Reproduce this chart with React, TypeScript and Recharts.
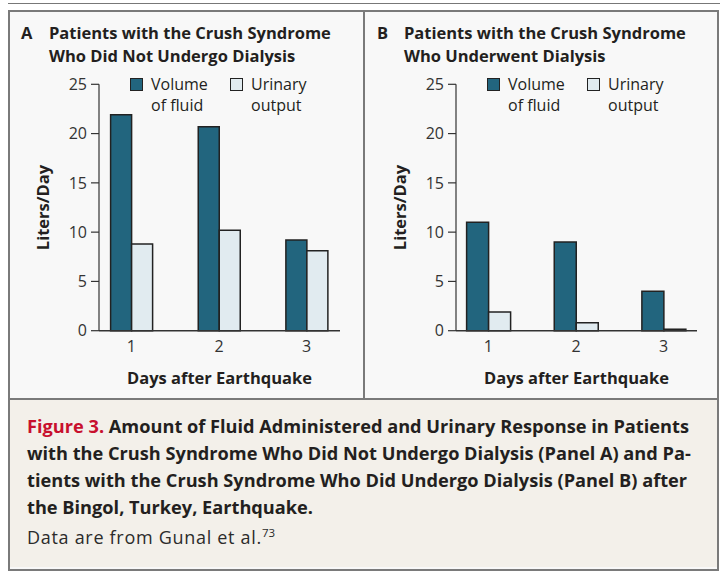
import React from 'react';
import { BarChart, Bar, XAxis, YAxis, Legend, Label } from 'recharts';

const days = [1, 2, 3];
const fluidNoDialysis = [21.9, 20.7, 9.2];
const urineNoDialysis = [8.8, 10.2, 8.1];
const fluidDialysis = [11.0, 9.0, 4.0];
const urineDialysis = [1.9, 0.8, 0.15];
const yTicks = [0, 5, 10, 15, 20, 25];
const seriesNames = ['Volume of fluid', 'Urinary output'];
const seriesColors = ['#22657e', '#e1ebf0'];
const xAxisTitle = 'Days after Earthquake';
const yAxisTitle = 'Liters/Day';

const FONT = '"Open Sans", sans-serif';
const TEXT = '#231f20';
const AXIS = '#333333';

const makeRows = (fluid: number[], urine: number[]) =>
  days.map((d, i) => ({ day: d, fluid: fluid[i], urine: urine[i] }));

const rowsA = makeRows(fluidNoDialysis, urineNoDialysis);
const rowsB = makeRows(fluidDialysis, urineDialysis);

const LegendContent = (props: any) => {
  const payload = [...(props.payload || [])].sort(
    (a: any, b: any) => seriesNames.indexOf(a.value) - seriesNames.indexOf(b.value)
  );
  return (
    <div style={{ display: 'flex', fontFamily: FONT, fontSize: 16, lineHeight: '21px', color: TEXT }}>
      {payload.map((entry: any, i: number) => {
        const name: string = entry.value;
        const sp = name.indexOf(' ');
        return (
          <div key={name} style={{ display: 'flex', width: i === 0 ? 100 : 'auto' }}>
            <div
              style={{
                width: 11,
                height: 11,
                border: '1.5px solid #222',
                background: entry.color,
                marginTop: 4,
                marginRight: 8,
                flex: 'none',
              }}
            />
            <div>
              <div>{name.slice(0, sp)}</div>
              <div>{name.slice(sp + 1)}</div>
            </div>
          </div>
        );
      })}
    </div>
  );
};

const YLabel = (props: any) => {
  const vb = props.viewBox || { x: 0, y: 0, width: 0, height: 0 };
  const x = vb.x + vb.width - 57;
  const y = vb.y + vb.height / 2;
  return (
    <text
      x={x}
      y={y}
      transform={`rotate(-90, ${x}, ${y})`}
      textAnchor="middle"
      dominantBaseline="central"
      fontFamily={FONT}
      fontWeight={700}
      fontSize={16.5}
      fill={TEXT}
    >
      {yAxisTitle}
    </text>
  );
};

const XLabel = (props: any) => {
  const vb = props.viewBox || { x: 0, y: 0, width: 0, height: 0 };
  return (
    <text
      x={vb.x + vb.width / 2}
      y={vb.y + 47}
      textAnchor="middle"
      dominantBaseline="central"
      fontFamily={FONT}
      fontWeight={700}
      fontSize={16.5}
      fill={TEXT}
    >
      {xAxisTitle}
    </text>
  );
};

function Panel({ rows, left, barSize }: { rows: any[]; left: number; barSize: number }) {
  return (
    <div style={{ position: 'absolute', left, top: 0 }}>
      <BarChart
        width={364}
        height={400}
        data={rows}
        margin={{ top: 84.3, right: 24, bottom: 39.3, left: 39 }}
        barGap={0}
      >
        <XAxis
          type="number"
          dataKey="day"
          domain={[0.63, 3.38]}
          allowDataOverflow
          ticks={days}
          interval={0}
          tickLine={false}
          height={30}
          tickMargin={4}
          axisLine={{ stroke: AXIS, strokeWidth: 1.5 }}
          tick={{ fill: AXIS, fontSize: 16, fontFamily: FONT }}
        >
          <Label content={XLabel} />
        </XAxis>
        <YAxis
          type="number"
          domain={[0, 25]}
          ticks={yTicks}
          interval={0}
          width={60}
          tickSize={8}
          tickMargin={4}
          axisLine={{ stroke: AXIS, strokeWidth: 1.2 }}
          tickLine={{ stroke: AXIS, strokeWidth: 1.2 }}
          tick={{ fill: AXIS, fontSize: 16, fontFamily: FONT }}
        >
          <Label content={YLabel} />
        </YAxis>
        <Legend
          layout="horizontal"
          verticalAlign="middle"
          align="center"
          wrapperStyle={{ top: 73.5, left: 130, width: 'auto', height: 'auto' }}
          content={LegendContent}
        />
        <Bar
          dataKey="fluid"
          name={seriesNames[0]}
          fill={seriesColors[0]}
          stroke="#222"
          strokeWidth={1.5}
          barSize={barSize}
          isAnimationActive={false}
        />
        <Bar
          dataKey="urine"
          name={seriesNames[1]}
          fill={seriesColors[1]}
          stroke="#222"
          strokeWidth={1.5}
          barSize={barSize}
          isAnimationActive={false}
        />
      </BarChart>
    </div>
  );
}

const titleStyle: React.CSSProperties = {
  position: 'absolute',
  fontFamily: FONT,
  fontWeight: 700,
  fontSize: 16.5,
  lineHeight: '23px',
  color: TEXT,
};

export default function App() {
  return (
    <div
      style={{
        position: 'absolute',
        left: 0,
        top: 0,
        width: 720,
        height: 571,
        background: '#ffffff',
        overflow: 'hidden',
        fontFamily: FONT,
      }}
    >
      <div style={{ position: 'absolute', left: 8, top: 2.5, width: 712, height: 1.8, background: '#777' }} />
      <div
        style={{
          position: 'absolute',
          left: 8,
          top: 10,
          width: 707,
          height: 557,
          border: '2px solid #7a7a7a',
          background: '#f8f8f8',
        }}
      />
      <div style={{ position: 'absolute', left: 363, top: 12, width: 2, height: 387, background: '#7a7a7a' }} />
      <div
        style={{
          position: 'absolute',
          left: 10,
          top: 398,
          width: 707,
          height: 2,
          background: '#7a7a7a',
        }}
      />
      <div
        style={{
          position: 'absolute',
          left: 10,
          top: 400,
          width: 707,
          height: 167,
          background: '#f3f0ea',
        }}
      />

      <div style={{ ...titleStyle, left: 21, top: 21 }}>A</div>
      <div style={{ ...titleStyle, left: 49, top: 21 }}>
        Patients with the Crush Syndrome
        <br />
        Who Did Not Undergo Dialysis
      </div>
      <div style={{ ...titleStyle, left: 377, top: 21 }}>B</div>
      <div style={{ ...titleStyle, left: 404, top: 21 }}>
        Patients with the Crush Syndrome
        <br />
        Who Underwent Dialysis
      </div>

      <Panel rows={rowsA} left={0} barSize={21} />
      <Panel rows={rowsB} left={357} barSize={22} />

      <div
        style={{
          position: 'absolute',
          left: 27,
          top: 412.8,
          fontFamily: FONT,
          fontWeight: 700,
          fontSize: 18.2,
          lineHeight: '26.9px',
          color: TEXT,
          whiteSpace: 'nowrap',
        }}
      >
        <span style={{ color: '#c8102e' }}>Figure 3.</span> Amount of Fluid Administered and Urinary Response in Patients
        <br />
        with the Crush Syndrome Who Did Not Undergo Dialysis (Panel A) and Pa-
        <br />
        tients with the Crush Syndrome Who Did Undergo Dialysis (Panel B) after
        <br />
        the Bingol, Turkey, Earthquake.
        <div style={{ fontWeight: 400, fontSize: 18, letterSpacing: 0.7, marginTop: 3.5, color: '#2b2b2b' }}>
          Data are from Gunal et al.<sup style={{ fontSize: 11.5, lineHeight: 0, verticalAlign: 'super', letterSpacing: 0 }}>73</sup>
        </div>
      </div>
    </div>
  );
}
